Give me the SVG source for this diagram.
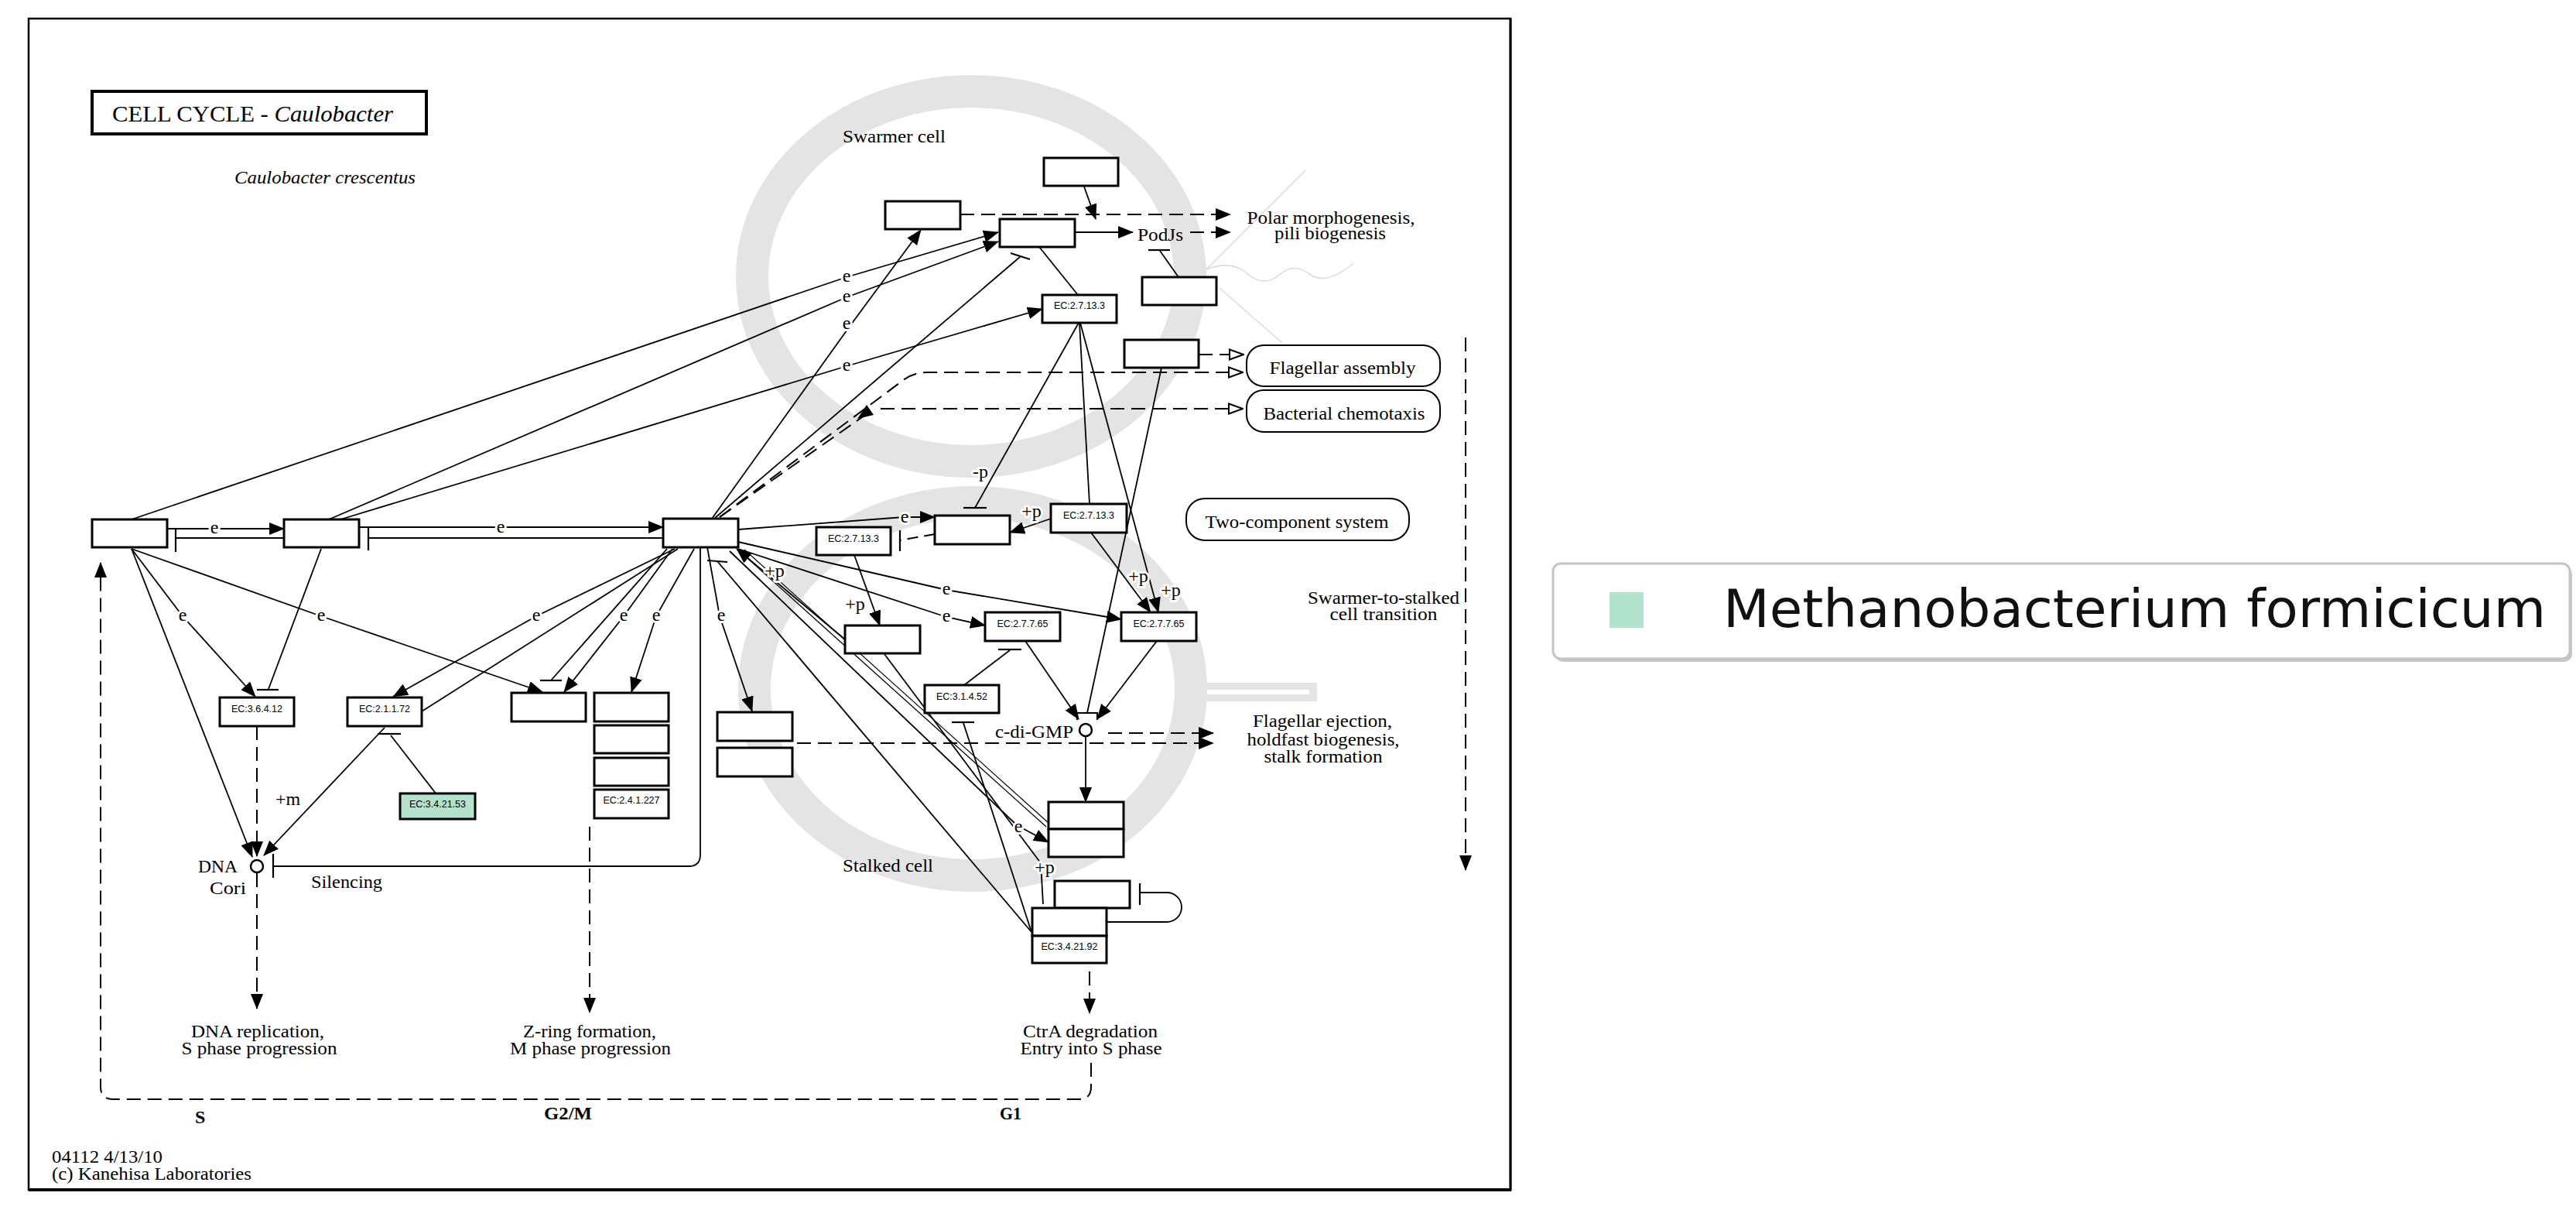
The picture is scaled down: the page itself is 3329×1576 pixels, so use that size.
<svg xmlns="http://www.w3.org/2000/svg" width="3329" height="1576" viewBox="0 0 3329 1576">
<defs>
<style>
.box{fill:#fff;stroke:#000;stroke-width:3}
.grn{fill:#b3e2cd;stroke:#000;stroke-width:3}
.rbox{fill:#fff;stroke:#000;stroke-width:2}
.ln{fill:none;stroke:#000;stroke-width:1.8}
.thin{fill:none;stroke:#000;stroke-width:1.2}
.dl{fill:none;stroke:#000;stroke-width:2;stroke-dasharray:18 9}
.bar{fill:none;stroke:#000;stroke-width:2.2}
.ring{fill:none;stroke:#e4e4e4;stroke-width:42}
.fl{fill:none;stroke:#dcdcdc;stroke-width:1.6}
.t{font-family:"Liberation Serif","Times New Roman",serif;font-size:24px;fill:#000}
.tm{font-family:"Liberation Serif","Times New Roman",serif;font-size:24px;fill:#000;text-anchor:middle}
.b{font-weight:bold}
.ec{font-family:"Liberation Sans",Arial,sans-serif;font-size:12.5px;text-anchor:middle;fill:#000}
.lab{font-family:"Liberation Serif","Times New Roman",serif;font-size:24px;text-anchor:middle;fill:#000;paint-order:stroke;stroke:#fff;stroke-width:6px;stroke-linejoin:round}
</style>
<marker id="ar" viewBox="0 0 20 16" refX="19" refY="8" markerWidth="20" markerHeight="16" markerUnits="userSpaceOnUse" orient="auto"><path d="M0,0 L20,8 L0,16 z" fill="#000"/></marker>
<marker id="oa" viewBox="0 0 20 16" refX="19" refY="8" markerWidth="20" markerHeight="16" markerUnits="userSpaceOnUse" orient="auto"><path d="M1,1.5 L19,8 L1,14.5 z" fill="#fff" stroke="#000" stroke-width="2"/></marker>
</defs>
<rect width="3329" height="1576" fill="#fff"/>

<g id="background">
<rect x="37" y="24" width="1915" height="1513" fill="none" stroke="#000" stroke-width="2.5"/>
<line x1="37" y1="1537" x2="1953" y2="1537" stroke="#000" stroke-width="4"/>
<line x1="1952" y1="24" x2="1952" y2="1538" stroke="#000" stroke-width="3"/>
<ellipse class="ring" cx="1255" cy="357" rx="283" ry="239"/>
<ellipse class="ring" cx="1257" cy="890" rx="282" ry="241"/>
<rect x="1556" y="882" width="146" height="24" fill="#e4e4e4"/>
<rect x="1560" y="891" width="132" height="6" fill="#fff"/>
<path class="fl" d="M1687 220 L1559 348"/>
<path class="fl" d="M1559 348 Q1590 336 1610 352 Q1632 372 1652 356 Q1672 338 1692 354 Q1714 370 1749 340"/>
<path class="fl" d="M1576 372 L1657 443"/>
</g>

<g id="title">
<rect x="119" y="118" width="432" height="55" fill="#fff" stroke="#000" stroke-width="4"/>
<text class="t" x="145" y="157" style="font-size:30px" textLength="363" lengthAdjust="spacingAndGlyphs">CELL  CYCLE  -  <tspan font-style="italic">Caulobacter</tspan></text>
<text class="t" x="303" y="237" font-style="italic" textLength="234" lengthAdjust="spacingAndGlyphs">Caulobacter crescentus</text>
</g>

<g id="connectors">
<!-- long lines to top -->
<path class="ln" d="M170 671 L1094 358 L1290 300" marker-end="url(#ar)"/>
<path class="ln" d="M425 671 L1094 384 L1290 312" marker-end="url(#ar)"/>
<path class="ln" d="M920 670 L1097 423 L1190 297" marker-end="url(#ar)"/>
<path class="ln" d="M440 671 L1094 473 L1347 399" marker-end="url(#ar)"/>
<path class="ln" d="M924 669 L1318 332"/>
<path class="bar" d="M1306 327 L1331 335"/>
<path class="dl" d="M930 668 L1166 492 Q1180 481 1198 481 L1606 481" marker-end="url(#oa)"/>
<path class="dl" d="M930 668 L1124 532"/>
<polygon points="1108,541 1129,536 1120,523" fill="#000"/>
<path class="dl" d="M1138 528 L1606 528" marker-end="url(#oa)"/>
<!-- top right -->
<path class="dl" d="M1241 277 L1590 277" marker-end="url(#ar)"/>
<path class="ln" d="M1401 241 L1416 283" marker-end="url(#ar)"/>
<path class="ln" d="M1389 300 L1464 300" marker-end="url(#ar)"/>
<path class="dl" d="M1538 300 L1590 300" marker-end="url(#ar)"/>
<path class="ln" d="M1523 358 L1499 324"/>
<path class="bar" d="M1484 323 L1512 323"/>
<path class="dl" d="M1549 458 L1607 458" marker-end="url(#oa)"/>
<path class="ln" d="M1343 319 L1393 381"/>
<!-- middle right -->
<path class="ln" d="M954 684 L1168 668 L1208 668" marker-end="url(#ar)"/>
<path class="dl" style="stroke-dasharray:14 8" d="M1208 690 L1163 698"/>
<path class="bar" d="M1163 685 L1163 712"/>
<path class="ln" d="M1394 417 L1260 656"/>
<path class="bar" d="M1245 656 L1275 656"/>
<path class="ln" d="M1358 670 L1305 688" marker-end="url(#ar)"/>
<path class="ln" d="M1104 717 L1137 808" marker-end="url(#ar)"/>
<path class="ln" d="M1092 826 L952 709" marker-end="url(#ar)"/>
<path class="ln" d="M954 700 L1223 762 L1449 800" marker-end="url(#ar)"/>
<path class="ln" d="M954 709 L1223 797 L1273 808" marker-end="url(#ar)"/>
<path class="ln" d="M1395 417 L1408 651"/>
<path class="ln" d="M1396 417 L1497 791" marker-end="url(#ar)"/>
<path class="ln" d="M1410 688 L1487 791" marker-end="url(#ar)"/>
<path class="ln" d="M1501 475 L1405 921"/>
<path class="bar" d="M1392 930 L1392 921 L1418 921 L1418 930"/>
<path class="ln" d="M1325 828 L1394 929" marker-end="url(#ar)"/>
<path class="ln" d="M1495 828 L1418 929" marker-end="url(#ar)"/>
<path class="ln" d="M1246 885 L1305 840"/>
<path class="bar" d="M1290 839 L1320 839"/>
<path class="ln" d="M1403 952 L1403 1036" marker-end="url(#ar)"/>
<path class="dl" d="M1432 947 L1568 947" marker-end="url(#ar)"/>
<path class="dl" d="M1030 960 L1568 960" marker-end="url(#ar)"/>
<!-- lower right bundle -->
<path class="ln" d="M1333 1204 L927 725"/>
<path class="bar" d="M914 724 L940 726"/>
<path class="ln" d="M1333 1204 L1245 934"/>
<path class="bar" d="M1230 933 L1259 933"/>
<path class="ln" d="M1143 845 L1345 1115 L1348 1168"/>
<path class="thin" d="M958 714 L1352 1068"/>
<path class="thin" d="M962 710 L1356 1064"/>
<path class="ln" d="M943 712 L1314 1066 L1355 1088" marker-end="url(#ar)"/>
<path class="ln" d="M1430 1191 L1508 1191 A19 19 0 0 0 1508 1153 L1473 1153"/>
<path class="bar" d="M1473 1141 L1473 1169"/>
<!-- left row -->
<path class="ln" d="M216 683 L367 683" marker-end="url(#ar)"/>
<path class="ln" d="M367 695 L227 695"/>
<path class="bar" d="M227 684 L227 713"/>
<path class="ln" d="M464 681 L857 681" marker-end="url(#ar)"/>
<path class="ln" d="M857 695 L476 695"/>
<path class="bar" d="M476 681 L476 711"/>
<path class="ln" d="M170 709 L236 796 L330 900" marker-end="url(#ar)"/>
<path class="ln" d="M170 709 L326 1107" marker-end="url(#ar)"/>
<path class="ln" d="M170 709 L415 796 L701 894" marker-end="url(#ar)"/>
<path class="ln" d="M415 709 L347 890"/>
<path class="bar" d="M332 891 L360 891"/>
<path class="ln" d="M872 709 L693 796 L508 900" marker-end="url(#ar)"/>
<path class="ln" d="M876 709 L545 919"/>
<path class="ln" d="M869 709 L806 796 L729 894" marker-end="url(#ar)"/>
<path class="ln" d="M862 709 L712 879"/>
<path class="bar" d="M698 879 L726 879"/>
<path class="ln" d="M897 709 L848 796 L816 894" marker-end="url(#ar)"/>
<path class="ln" d="M914 707 L930 796 L972 919" marker-end="url(#ar)"/>
<path class="ln" d="M353 1119 L890 1119 Q905 1119 905 1104 L905 707"/>
<path class="bar" d="M353 1103 L353 1134"/>
<path class="ln" d="M497 940 L341 1105" marker-end="url(#ar)"/>
<path class="ln" d="M564 1026 L505 950"/>
<path class="bar" d="M488 948 L518 948"/>
<path class="dl" d="M332 938 L332 1106" marker-end="url(#ar)"/>
<path class="dl" d="M332 1128 L332 1303" marker-end="url(#ar)"/>
<path class="dl" d="M762 1068 L762 1308" marker-end="url(#ar)"/>
<path class="dl" d="M1408 1255 L1408 1309" marker-end="url(#ar)"/>
<path class="dl" d="M1410 1373 L1410 1404 Q1410 1420 1394 1420 L146 1420 Q130 1420 130 1404 L130 727" marker-end="url(#ar)"/>
<path class="dl" d="M1894 436 L1894 1124" marker-end="url(#ar)"/>
</g>

<g id="edge-labels">
<text class="lab" x="1094" y="364">e</text>
<text class="lab" x="1094" y="390">e</text>
<text class="lab" x="1094" y="425">e</text>
<text class="lab" x="1094" y="479">e</text>
<text class="lab" x="277" y="689">e</text>
<text class="lab" x="647" y="688">e</text>
<text class="lab" x="236" y="802">e</text>
<text class="lab" x="415" y="802">e</text>
<text class="lab" x="693" y="802">e</text>
<text class="lab" x="806" y="802">e</text>
<text class="lab" x="848" y="802">e</text>
<text class="lab" x="932" y="802">e</text>
<text class="lab" x="1169" y="675">e</text>
<text class="lab" x="1223" y="768">e</text>
<text class="lab" x="1223" y="803">e</text>
<text class="lab" x="1316" y="1075">e</text>
<text class="lab" x="1267" y="617">-p</text>
<text class="lab" x="1333" y="668">+p</text>
<text class="lab" x="1105" y="788">+p</text>
<text class="lab" x="1001" y="745">+p</text>
<text class="lab" x="1471" y="752">+p</text>
<text class="lab" x="1513" y="770">+p</text>
<text class="lab" x="1350" y="1128">+p</text>
<text class="lab" x="372" y="1040">+m</text>
</g>

<g id="node-A"><rect class="box" x="119" y="671" width="97" height="36"/></g>
<g id="node-B"><rect class="box" x="367" y="671" width="97" height="36"/></g>
<g id="node-C"><rect class="box" x="857" y="670" width="97" height="37"/></g>
<g id="node-D"><rect class="box" x="1208" y="666" width="97" height="37"/></g>
<g id="node-ec2713-left"><rect class="box" x="1055" y="681" width="96" height="36"/><text class="ec" x="1103" y="700">EC:2.7.13.3</text></g>
<g id="node-ec2713-right"><rect class="box" x="1358" y="651" width="98" height="37"/><text class="ec" x="1407" y="670">EC:2.7.13.3</text></g>
<g id="node-ec2713-top"><rect class="box" x="1347" y="381" width="96" height="36"/><text class="ec" x="1395" y="399">EC:2.7.13.3</text></g>
<g id="node-ec27765-left"><rect class="box" x="1273" y="791" width="97" height="37"/><text class="ec" x="1321.5" y="810">EC:2.7.7.65</text></g>
<g id="node-ec27765-right"><rect class="box" x="1449" y="791" width="97" height="37"/><text class="ec" x="1497.5" y="810">EC:2.7.7.65</text></g>
<g id="node-pbox"><rect class="box" x="1092" y="808" width="97" height="36"/></g>
<g id="node-ec31452"><rect class="box" x="1195" y="885" width="96" height="36"/><text class="ec" x="1243" y="904">EC:3.1.4.52</text></g>
<g id="node-g1"><rect class="box" x="661" y="895" width="96" height="37"/></g>
<g id="node-stack">
<rect class="box" x="768" y="895" width="96" height="37"/>
<rect class="box" x="768" y="937" width="96" height="36"/>
<rect class="box" x="768" y="979" width="96" height="36"/>
<rect class="box" x="768" y="1020" width="96" height="37"/>
<text class="ec" x="816" y="1038">EC:2.4.1.227</text>
</g>
<g id="node-r1"><rect class="box" x="927" y="920" width="97" height="37"/></g>
<g id="node-r2"><rect class="box" x="927" y="966" width="97" height="37"/></g>
<g id="node-ec36412"><rect class="box" x="284" y="901" width="96" height="37"/><text class="ec" x="332" y="920">EC:3.6.4.12</text></g>
<g id="node-ec21172"><rect class="box" x="449" y="901" width="96" height="37"/><text class="ec" x="497" y="920">EC:2.1.1.72</text></g>
<g id="node-ec342153"><rect class="grn" x="517" y="1025" width="97" height="33"/><text class="ec" x="565.5" y="1043">EC:3.4.21.53</text></g>
<g id="node-top1"><rect class="box" x="1144" y="260" width="97" height="36"/></g>
<g id="node-plec"><rect class="box" x="1292" y="283" width="97" height="36"/></g>
<g id="node-top2"><rect class="box" x="1349" y="204" width="96" height="36"/></g>
<g id="node-podj-box"><rect class="box" x="1476" y="358" width="96" height="36"/></g>
<g id="node-fl-box"><rect class="box" x="1453" y="439" width="96" height="36"/></g>
<g id="node-stackR">
<rect class="box" x="1355" y="1036" width="97" height="35"/>
<rect class="box" x="1355" y="1071" width="97" height="36"/>
</g>
<g id="node-x"><rect class="box" x="1363" y="1138" width="97" height="35"/></g>
<g id="node-ec342192">
<rect class="box" x="1334" y="1173" width="96" height="36"/>
<rect class="box" x="1334" y="1209" width="96" height="35"/>
<text class="ec" x="1382" y="1227">EC:3.4.21.92</text>
</g>
<g id="node-dna"><circle cx="332" cy="1119" r="8" fill="#fff" stroke="#000" stroke-width="2.5"/>
<text class="t" x="256" y="1127" textLength="51" lengthAdjust="spacingAndGlyphs">DNA</text>
<text class="t" x="271" y="1155" textLength="47" lengthAdjust="spacingAndGlyphs">Cori</text></g>
<g id="node-cdigmp"><circle cx="1403" cy="943" r="8" fill="#fff" stroke="#000" stroke-width="2.5"/>
<text class="t" x="1286" y="953" textLength="101" lengthAdjust="spacingAndGlyphs">c-di-GMP</text></g>
<g id="node-flag-asm"><rect class="rbox" x="1611" y="446" width="250" height="53" rx="22"/><text class="tm" x="1735" y="483" textLength="189" lengthAdjust="spacingAndGlyphs">Flagellar assembly</text></g>
<g id="node-chemo"><rect class="rbox" x="1611" y="504" width="250" height="54" rx="22"/><text class="tm" x="1737" y="542" textLength="209" lengthAdjust="spacingAndGlyphs">Bacterial chemotaxis</text></g>
<g id="node-tcs"><rect class="rbox" x="1533" y="644" width="288" height="54" rx="24"/><text class="tm" x="1676" y="682" textLength="237" lengthAdjust="spacingAndGlyphs">Two-component system</text></g>

<g id="texts">
<text class="t" x="1089" y="184" textLength="133" lengthAdjust="spacingAndGlyphs">Swarmer cell</text>
<text class="t" x="1089" y="1126" textLength="117" lengthAdjust="spacingAndGlyphs">Stalked cell</text>
<text class="tm" x="1720" y="289" textLength="217" lengthAdjust="spacingAndGlyphs">Polar morphogenesis,</text>
<text class="tm" x="1719" y="309" textLength="144" lengthAdjust="spacingAndGlyphs">pili biogenesis</text>
<text class="t" x="1470" y="311" textLength="59" lengthAdjust="spacingAndGlyphs">PodJs</text>
<text class="tm" x="1788" y="780" textLength="196" lengthAdjust="spacingAndGlyphs">Swarmer-to-stalked</text>
<text class="tm" x="1788" y="801" textLength="139" lengthAdjust="spacingAndGlyphs">cell transition</text>
<text class="tm" x="1709" y="939" textLength="180" lengthAdjust="spacingAndGlyphs">Flagellar ejection,</text>
<text class="tm" x="1710" y="963" textLength="197" lengthAdjust="spacingAndGlyphs">holdfast biogenesis,</text>
<text class="tm" x="1710" y="985" textLength="153" lengthAdjust="spacingAndGlyphs">stalk formation</text>
<text class="t" x="402" y="1147" textLength="92" lengthAdjust="spacingAndGlyphs">Silencing</text>
<text class="tm" x="333" y="1340" textLength="172" lengthAdjust="spacingAndGlyphs">DNA replication,</text>
<text class="tm" x="335" y="1362" textLength="201" lengthAdjust="spacingAndGlyphs">S phase progression</text>
<text class="tm" x="762" y="1340" textLength="172" lengthAdjust="spacingAndGlyphs">Z-ring formation,</text>
<text class="tm" x="763" y="1362" textLength="208" lengthAdjust="spacingAndGlyphs">M phase progression</text>
<text class="tm" x="1409" y="1340" textLength="174" lengthAdjust="spacingAndGlyphs">CtrA degradation</text>
<text class="tm" x="1410" y="1362" textLength="183" lengthAdjust="spacingAndGlyphs">Entry into S phase</text>
<text class="t b" x="252" y="1451">S</text>
<text class="t b" x="703" y="1446" textLength="62" lengthAdjust="spacingAndGlyphs">G2/M</text>
<text class="t b" x="1292" y="1446" textLength="28" lengthAdjust="spacingAndGlyphs">G1</text>
<text class="t" x="67" y="1502" textLength="143" lengthAdjust="spacingAndGlyphs">04112 4/13/10</text>
<text class="t" x="67" y="1524" textLength="258" lengthAdjust="spacingAndGlyphs">(c) Kanehisa Laboratories</text>
</g>

<g id="legend">
<rect x="2010" y="732" width="1314" height="123" rx="10" fill="#c8c8c8"/>
<rect x="2007" y="728" width="1314" height="123" rx="10" fill="#fff" stroke="#c4c4c4" stroke-width="3"/>
<rect x="2080" y="765" width="44" height="46" fill="#b3e2cd"/>
<text x="2227" y="810" style="font-family:'DejaVu Sans',sans-serif;font-size:68px;fill:#111" textLength="1063" lengthAdjust="spacingAndGlyphs">Methanobacterium formicicum</text>
</g>
</svg>
